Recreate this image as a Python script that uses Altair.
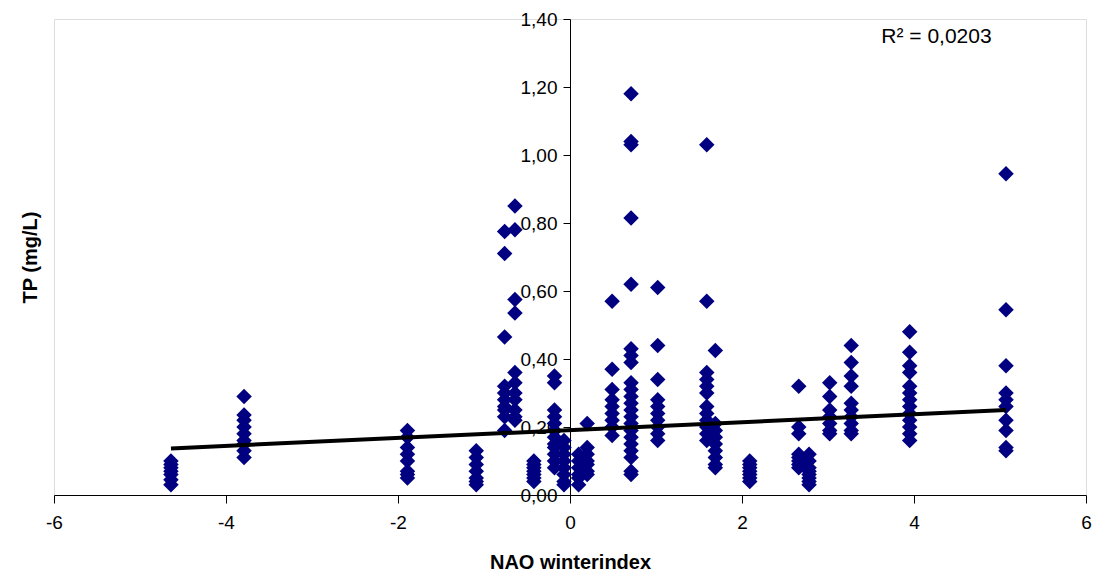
import altair as alt
import pandas as pd

# NAO winter index of each sampling year (one column of points per year)
nao_years = [-4.64, -3.79, -1.89, -1.09, -0.76, -0.64, -0.42, -0.18, -0.07,
             0.10, 0.20, 0.49, 0.71, 1.02, 1.59, 1.69, 2.09, 2.66, 2.78,
             3.02, 3.27, 3.95, 5.07]

tp_values = [
    [0.03, 0.045, 0.06, 0.07, 0.08, 0.09, 0.10],
    [0.29, 0.235, 0.22, 0.20, 0.18, 0.16, 0.15, 0.13, 0.11],
    [0.19, 0.17, 0.14, 0.12, 0.10, 0.07, 0.06, 0.05],
    [0.13, 0.11, 0.09, 0.07, 0.05, 0.04, 0.03],
    [0.775, 0.71, 0.465, 0.32, 0.30, 0.28, 0.26, 0.25, 0.23, 0.19],
    [0.85, 0.78, 0.575, 0.535, 0.36, 0.33, 0.30, 0.28, 0.25, 0.23, 0.22],
    [0.10, 0.09, 0.08, 0.07, 0.06, 0.05, 0.04],
    [0.35, 0.33, 0.25, 0.23, 0.21, 0.19, 0.17, 0.15, 0.14, 0.12, 0.10, 0.08],
    [0.16, 0.14, 0.12, 0.10, 0.08, 0.06, 0.04, 0.03],
    [0.12, 0.10, 0.08, 0.06, 0.05, 0.03],
    [0.21, 0.14, 0.12, 0.10, 0.09, 0.07, 0.06],
    [0.57, 0.37, 0.31, 0.28, 0.26, 0.24, 0.22, 0.20, 0.175],
    [1.18, 1.04, 1.03, 0.815, 0.62, 0.43, 0.41, 0.39, 0.33, 0.31, 0.29, 0.27,
     0.25, 0.23, 0.21, 0.19, 0.17, 0.15, 0.13, 0.11, 0.07, 0.06],
    [0.61, 0.44, 0.34, 0.28, 0.26, 0.24, 0.22, 0.20, 0.18, 0.16],
    [1.03, 0.57, 0.36, 0.34, 0.32, 0.30, 0.26, 0.24, 0.22, 0.20, 0.18, 0.16],
    [0.425, 0.21, 0.19, 0.17, 0.15, 0.13, 0.11, 0.09, 0.08],
    [0.10, 0.09, 0.08, 0.07, 0.06, 0.05, 0.04],
    [0.32, 0.20, 0.18, 0.12, 0.11, 0.10, 0.09, 0.08],
    [0.12, 0.10, 0.08, 0.07, 0.06, 0.05, 0.04, 0.03],
    [0.33, 0.29, 0.25, 0.23, 0.21, 0.19, 0.18],
    [0.44, 0.39, 0.35, 0.32, 0.27, 0.25, 0.23, 0.21, 0.19, 0.18],
    [0.48, 0.42, 0.38, 0.36, 0.32, 0.30, 0.28, 0.26, 0.24, 0.22, 0.20, 0.18, 0.16],
    [0.945, 0.545, 0.38, 0.30, 0.28, 0.26, 0.22, 0.19, 0.14, 0.13],
]

# linear trend line end points
trend_x = [-4.64, 5.07]
trend_y = [0.137, 0.250]

r2_label = ["R² = 0,0203"]
r2_x = [3.62]
r2_y = [1.347]

x_ticks = [-6, -4, -2, 0, 2, 4, 6]
y_ticks = [0.0, 0.2, 0.4, 0.6, 0.8, 1.0, 1.2, 1.4]

rows = []
for xv, ys in zip(nao_years, tp_values):
    for yv in ys:
        rows.append({"nao": xv, "tp": yv})
points_df = pd.DataFrame(rows)
trend_df = pd.DataFrame({"nao": trend_x, "tp": trend_y})
r2_df = pd.DataFrame({"nao": r2_x, "tp": r2_y, "label": r2_label})

W, H = 1032, 476
FONT = "Liberation Sans"

x_scale = alt.Scale(domain=[-6, 6], nice=False, zero=False)
y_scale = alt.Scale(domain=[0, 1.4], nice=False)

x_enc = alt.X(
    "nao:Q", scale=x_scale,
    axis=alt.Axis(values=x_ticks, title="NAO winterindex", grid=False,
                  tickSize=8, labelPadding=10, titlePadding=20,
                  labelExpr="toString(datum.value)",
                  labelFontSize=19, titleFontSize=20, titleFontWeight="bold",
                  domainColor="black", tickColor="black", labelColor="black",
                  titleColor="black", labelFont=FONT, titleFont=FONT,
                  labelFlush=False),
)
y_enc = alt.Y(
    "tp:Q", scale=y_scale,
    axis=alt.Axis(values=y_ticks, title="TP (mg/L)", grid=False,
                  offset=-W / 2, tickSize=7, labelPadding=6,
                  labelExpr="replace(format(datum.value, '.2f'), '.', ',')",
                  labelFontSize=19, titleFontSize=20, titleFontWeight="bold",
                  domainColor="black", tickColor="black", labelColor="black",
                  titleColor="black", labelFont=FONT, titleFont=FONT,
                  titleX=-W / 2 - 24, titleY=H / 2, titleAngle=270,
                  titleAlign="center", titleBaseline="middle",
                  labelFlush=False),
)

pts = alt.Chart(points_df).mark_point(
    shape="diamond", filled=True, size=240, color="#000080", opacity=1
).encode(x=x_enc, y=y_enc)

trend = alt.Chart(trend_df).mark_line(color="black", strokeWidth=4).encode(
    x=alt.X("nao:Q", scale=x_scale), y=alt.Y("tp:Q", scale=y_scale)
)

r2 = alt.Chart(r2_df).mark_text(
    align="left", baseline="middle", fontSize=21, font=FONT, color="black"
).encode(x=alt.X("nao:Q", scale=x_scale), y=alt.Y("tp:Q", scale=y_scale),
         text="label:N")

chart = alt.layer(pts, trend, r2).properties(
    width=W, height=H,
    autosize=alt.AutoSizeParams(type="none"),
    padding={"left": 46, "top": 11, "right": 6, "bottom": 80},
).configure_view(stroke=None).configure(background="white")

chart.save("out.html", embed_options={"renderer": "svg", "actions": False})
